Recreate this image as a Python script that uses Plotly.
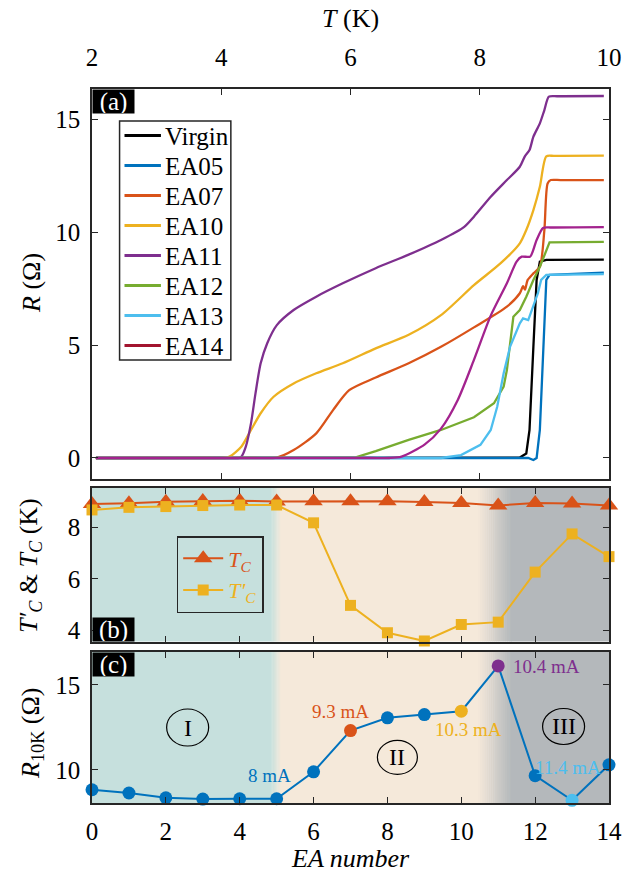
import plotly.graph_objects as go

# ---------------- data ----------------
# (a) resistance vs temperature after each electro-annealing step
T_virgin = [2.06, 8.62, 8.72, 8.77, 8.83, 8.88, 8.93, 9.03, 9.92]
R_virgin = [0.0, 0.02, 0.20, 1.24, 4.93, 7.88, 8.69, 8.77, 8.78]

T_ea05 = [2.06, 8.75, 8.83, 8.88, 8.93, 8.98, 9.03, 9.08, 9.92]
R_ea05 = [0.0, 0.0, -0.09, 0.0, 1.24, 4.93, 7.88, 8.10, 8.20]

T_ea07 = [2.06, 4.50, 4.86, 5.12, 5.47, 5.73, 5.98, 6.39, 6.90, 7.40, 7.91, 8.42, 8.62,
          8.67, 8.70, 8.74, 8.83, 8.93, 9.00, 9.05, 9.10, 9.25, 9.92]
R_ea07 = [0.0, 0.0, 0.02, 0.35, 1.09, 2.12, 3.00, 3.56, 4.19, 4.92, 5.78, 6.70, 7.29,
          7.60, 7.45, 7.87, 8.17, 8.46, 10.09, 12.15, 12.30, 12.30, 12.30]

T_ea10 = [2.06, 3.80, 4.05, 4.13, 4.31, 4.46, 4.61, 4.81, 5.12, 5.47, 5.88, 6.39, 6.90,
          7.40, 7.91, 8.32, 8.62, 8.72, 8.83, 8.93, 9.03, 9.15, 9.92]
R_ea10 = [0.0, 0.0, 0.0, 0.06, 0.50, 1.24, 1.98, 2.71, 3.30, 3.75, 4.19, 4.85, 5.45,
          6.32, 7.65, 8.61, 9.50, 10.09, 10.97, 12.00, 13.35, 13.37, 13.38]

T_ea11 = [2.06, 4.00, 4.28, 4.31, 4.38, 4.46, 4.53, 4.61, 4.71, 4.86, 5.12, 5.47, 5.88,
          6.39, 6.90, 7.40, 7.76, 7.91, 8.17, 8.42, 8.62, 8.70, 8.77, 8.83, 8.93, 9.00,
          9.07, 9.20, 9.92]
R_ea11 = [0.0, 0.0, 0.0, 0.05, 0.50, 1.53, 2.86, 4.19, 5.07, 5.88, 6.55, 7.14, 7.73,
          8.40, 9.00, 9.65, 10.23, 10.68, 11.56, 12.30, 12.89, 13.36, 13.63, 14.22, 14.81,
          15.40, 15.99, 16.01, 16.02]

T_ea12 = [2.06, 5.90, 6.08, 6.39, 6.90, 7.40, 7.91, 8.22, 8.37, 8.42, 8.47, 8.52, 8.62,
          8.72, 8.83, 8.93, 9.08, 9.92]
R_ea12 = [0.0, 0.0, 0.03, 0.30, 0.80, 1.24, 1.80, 2.42, 3.16, 3.89, 5.22, 6.25, 6.55,
          7.14, 7.88, 8.46, 9.54, 9.56]

T_ea13 = [2.06, 7.40, 7.71, 8.01, 8.17, 8.27, 8.37, 8.47, 8.62, 8.67, 8.75, 8.83, 8.90,
          8.95, 9.03, 9.92]
R_ea13 = [0.0, 0.0, 0.13, 0.58, 1.24, 2.27, 3.75, 4.93, 5.96, 6.18, 6.10, 6.70, 7.29,
          7.88, 8.10, 8.14]

T_ea14 = [2.06, 6.30, 6.60, 6.79, 7.15, 7.40, 7.66, 7.91, 8.17, 8.42, 8.57, 8.65, 8.78,
          8.88, 8.98, 9.10, 9.92]
R_ea14 = [0.0, 0.0, 0.0, 0.06, 0.60, 1.30, 2.57, 4.34, 6.30, 7.73, 8.69, 8.91, 8.91,
          9.65, 10.18, 10.20, 10.22]

curve_names = ["Virgin", "EA05", "EA07", "EA10", "EA11", "EA12", "EA13", "EA14"]

# (b), (c) summary vs EA step
ea_number = list(range(15))
tc = [8.90, 8.93, 8.99, 9.02, 9.03, 9.00, 9.01, 9.01, 9.01, 8.98, 8.94, 8.84, 8.94, 8.92, 8.84]
tc_prime = [8.67, 8.77, 8.80, 8.84, 8.86, 8.86, 8.17, 4.97, 3.91, 3.59, 4.23, 4.32, 6.26,
            7.74, 6.86]
r10k = [8.82, 8.63, 8.35, 8.27, 8.29, 8.29, 9.88, 12.31, 13.06, 13.25, 13.45, 16.12, 9.65,
        8.20, 10.29]

current_labels = ["8 mA", "9.3 mA", "10.3 mA", "10.4 mA", "11.4 mA"]
region_labels = ["I", "II", "III"]

# ---------------- style ----------------
FONT = "Liberation Serif"
INK = "#262626"
BLUE, ORANGE, YELLOW = "#0072BD", "#D95319", "#EDB120"
PURPLE, GREEN, CYAN = "#7E2F8E", "#77AC30", "#4DBEEE"
DARKRED, MAGENTA = "#A2142F", "#A3238E"
TEAL, BEIGE, GREY = (198, 224, 221), (245, 233, 218), (180, 184, 187)

W, H = 634, 875
L, R_, T_, B = 92, 17, 89, 72
PH = H - T_ - B
PW = W - L - R_


def py(y):
    """pixel row -> paper y"""
    return (H - B - y) / PH


def px(x):
    """pixel column -> paper x"""
    return (x - L) / PW


fig = go.Figure()

curve_data = [
    (T_virgin, R_virgin, "black", "linear"),
    (T_ea05, R_ea05, BLUE, "linear"),
    (T_ea07, R_ea07, ORANGE, "spline"),
    (T_ea10, R_ea10, YELLOW, "spline"),
    (T_ea11, R_ea11, PURPLE, "spline"),
    (T_ea12, R_ea12, GREEN, "linear"),
    (T_ea13, R_ea13, CYAN, "linear"),
    (T_ea14, R_ea14, MAGENTA, "spline"),
]
key_colors = ["black", BLUE, ORANGE, YELLOW, PURPLE, GREEN, CYAN, DARKRED]

for name, (t, r, c, shp) in zip(curve_names, curve_data):
    fig.add_trace(go.Scatter(x=t, y=r, mode="lines", name=name, showlegend=False,
                             line=dict(color=c, width=2.3, shape=shp, smoothing=0.7),
                             xaxis="x", yaxis="y"))

# (b)
fig.add_trace(go.Scatter(
    x=ea_number, y=tc, mode="lines+markers", cliponaxis=False,
    name=f"<span style='color:{ORANGE}'><i>T<sub>C</sub></i></span>",
    line=dict(color=ORANGE, width=2),
    marker=dict(symbol="triangle-up", size=16, color=ORANGE),
    xaxis="x2", yaxis="y2", legend="legend2"))
fig.add_trace(go.Scatter(
    x=ea_number, y=tc_prime, mode="lines+markers", cliponaxis=False,
    name=f"<span style='color:{YELLOW}'><i>T′<sub>C</sub></i></span>",
    line=dict(color=YELLOW, width=2),
    marker=dict(symbol="square", size=11, color=YELLOW),
    xaxis="x2", yaxis="y2", legend="legend2"))

# (c)
point_colors = [BLUE] * len(ea_number)
point_colors[7], point_colors[10], point_colors[11], point_colors[13] = ORANGE, YELLOW, PURPLE, CYAN
fig.add_trace(go.Scatter(
    x=ea_number, y=r10k, mode="lines+markers", cliponaxis=False, showlegend=False,
    line=dict(color=BLUE, width=2),
    marker=dict(symbol="circle", size=13, color=point_colors),
    xaxis="x3", yaxis="y3"))

# background regions I / II / III with soft transitions
shapes = []


def mix(c0, c1, f):
    return "rgb(%d,%d,%d)" % tuple(round(a + (b - a) * f) for a, b in zip(c0, c1))


def rect(xr, yr, x0, x1, col):
    shapes.append(dict(type="rect", xref=xr, yref=yr + " domain", x0=x0, x1=x1, y0=0, y1=1,
                       fillcolor=col, line=dict(width=0), layer="below"))


def fade(xr, yr, x0, x1, c0, c1, n=14):
    step = (x1 - x0) / n
    for i in range(n):
        rect(xr, yr, x0 + i * step, x0 + (i + 1) * step + 0.01, mix(c0, c1, (i + 0.5) / n))


for xr, yr in (("x2", "y2"), ("x3", "y3")):
    rect(xr, yr, 0, 4.86, mix(TEAL, TEAL, 0))
    fade(xr, yr, 4.85, 5.12, TEAL, BEIGE, 8)
    rect(xr, yr, 5.11, 10.46, mix(BEIGE, BEIGE, 0))
    fade(xr, yr, 10.45, 11.35, BEIGE, GREY, 16)
    rect(xr, yr, 11.34, 14, mix(GREY, GREY, 0))

annotations = []

# region markers in (c)
region_pos = [(2.59, 12.49, 42, 37), (8.27, 10.73, 40, 34), (12.77, 12.55, 42, 36)]
for lab, (xc, yc, w, h) in zip(region_labels, region_pos):
    shapes.append(dict(type="circle", xref="x3", yref="y3", xsizemode="pixel",
                       ysizemode="pixel", xanchor=xc, yanchor=yc, x0=-w / 2, x1=w / 2,
                       y0=-h / 2, y1=h / 2, line=dict(color="black", width=1.2)))
    annotations.append(dict(text=lab, x=xc, y=yc, xref="x3", yref="y3", showarrow=False,
                            xanchor="center", yanchor="middle",
                            font=dict(size=24, color="black")))

# current used for selected steps
label_pos = [(4.8, 9.69), (6.74, 13.41), (10.2, 12.39), (12.3, 16.08), (12.9, 10.13)]
for lab, (xc, yc), col in zip(current_labels, label_pos, [BLUE, ORANGE, YELLOW, PURPLE, CYAN]):
    annotations.append(dict(text=lab, x=xc, y=yc, xref="x3", yref="y3", showarrow=False,
                            xanchor="center", yanchor="middle",
                            font=dict(size=19, color=col)))

# legend of panel (a), drawn as a boxed key
lg_left, lg_top, lg_right, lg_bottom = 120, 121, 233, 360
shapes.append(dict(type="rect", xref="paper", yref="paper", x0=px(lg_left), x1=px(lg_right),
                   y0=py(lg_bottom), y1=py(lg_top), fillcolor="white",
                   line=dict(color=INK, width=1.5)))
for i, (name, col) in enumerate(zip(curve_names, key_colors)):
    yrow = 135.5 + 30 * i
    shapes.append(dict(type="line", xref="paper", yref="paper", x0=px(125), x1=px(162),
                       y0=py(yrow), y1=py(yrow), line=dict(color=col, width=3)))
    annotations.append(dict(text=name, x=px(164), y=py(yrow + 1), xref="paper", yref="paper",
                            xanchor="left", yanchor="middle", showarrow=False,
                            font=dict(size=25, color="black")))

# panel tags
for tag, ytop, anchor in (("(a)", py(89), "top"), ("(b)", py(641.5), "bottom"),
                          ("(c)", py(652), "top")):
    annotations.append(dict(text=tag, x=0, y=ytop, xref="paper", yref="paper",
                            xanchor="left", yanchor=anchor, showarrow=False, bgcolor="black",
                            width=41, height=23, borderpad=0,
                            font=dict(size=25, color="white")))

# axis titles
annotations += [
    dict(text="<i>T</i> (K)", x=px(355), y=py(19)),
    dict(text="<i>EA number</i>", x=px(355), y=py(858)),
    dict(text="<i>R</i> (Ω)", x=px(30), y=py(283), textangle=-90),
    dict(text="<i>T′<sub>C</sub></i> & <i>T<sub>C</sub></i> (K)", x=px(29), y=py(565),
         textangle=-90),
    dict(text="<i>R</i><sub>10K</sub> (Ω)", x=px(31), y=py(733), textangle=-90),
]
for a in annotations[-5:]:
    a.update(xref="paper", yref="paper", showarrow=False, xanchor="center",
             yanchor="middle", font=dict(size=26, color="black"))

axis_common = dict(showline=True, linecolor=INK, linewidth=1.6, mirror="ticks",
                   ticks="inside", ticklen=6, tickwidth=1.2, tickcolor=INK,
                   showgrid=False, zeroline=False, ticklabelstandoff=5,
                   tickfont=dict(size=25, color="black"))

fig.update_layout(
    width=W, height=H, margin=dict(l=L, r=R_, t=T_, b=B, pad=0),
    paper_bgcolor="white", plot_bgcolor="white",
    font=dict(family=FONT, color="black"),
    xaxis=dict(domain=[0, 1], anchor="y", side="top", range=[2, 10],
               tickvals=[2, 4, 6, 8, 10], **{**axis_common, "ticklabelstandoff": 11}),
    yaxis=dict(domain=[py(479), 1], anchor="x", range=[-0.93, 16.33],
               tickvals=[0, 5, 10, 15], **axis_common),
    xaxis2=dict(domain=[0, 1], anchor="y2", range=[0, 14], tickvals=list(range(0, 15, 2)),
                showticklabels=False, **axis_common),
    yaxis2=dict(domain=[py(641.5), py(488)], anchor="x2", range=[3.57, 9.52],
                tickvals=[4, 6, 8], **axis_common),
    xaxis3=dict(domain=[0, 1], anchor="y3", range=[0, 14], tickvals=list(range(0, 15, 2)),
                **axis_common),
    yaxis3=dict(domain=[0, py(652)], anchor="x3", range=[8.04, 16.94],
                tickvals=[10, 15], **axis_common),
    legend2=dict(x=px(178), y=py(536), xanchor="left", yanchor="top",
                 bgcolor="rgba(0,0,0,0)", bordercolor=INK, borderwidth=1.5,
                 font=dict(size=22), tracegroupgap=0, itemwidth=40),
    shapes=shapes, annotations=annotations, showlegend=True,
)

fig.write_html("out.html")
